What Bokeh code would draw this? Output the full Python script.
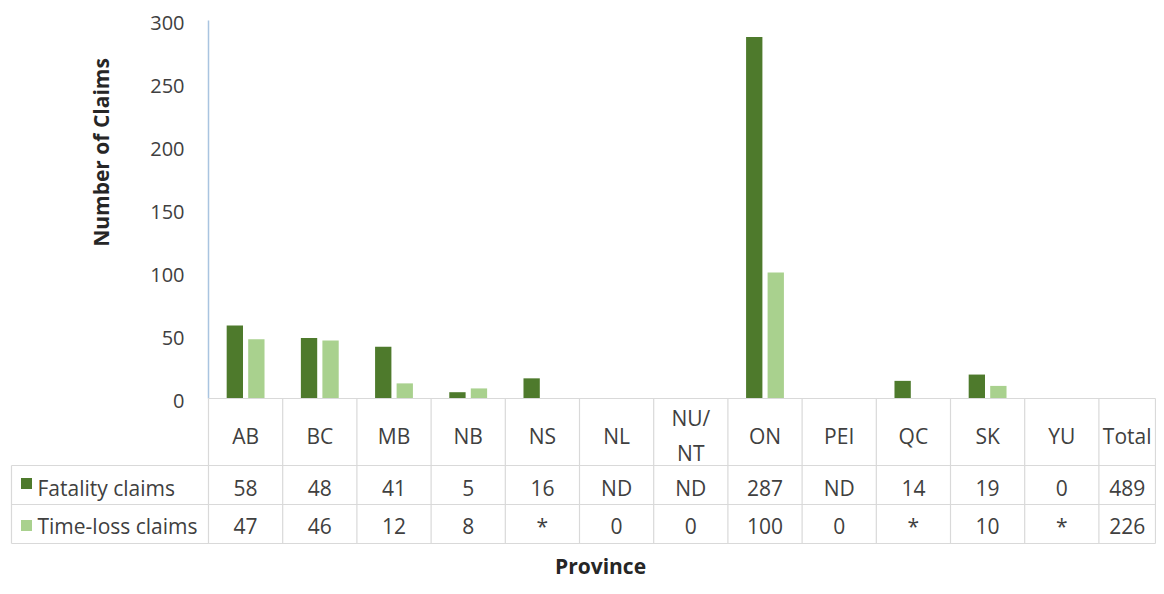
import numpy as np
from bokeh.plotting import figure
from bokeh.models import Range1d
from bokeh.core.properties import value
from bokeh.embed import file_html
from bokeh.resources import INLINE

# ---------------- data ----------------
provinces = ["AB", "BC", "MB", "NB", "NS", "NL", "NU/\nNT", "ON", "PEI", "QC", "SK", "YU", "Total"]
fatality_table = ["58", "48", "41", "5", "16", "ND", "ND", "287", "ND", "14", "19", "0", "489"]
timeloss_table = ["47", "46", "12", "8", "*", "0", "0", "100", "0", "*", "10", "*", "226"]
series_names = ["Fatality claims", "Time-loss claims"]
y_ticks = [0, 50, 100, 150, 200, 250, 300]

DARK = "#4e7a2c"
LIGHT = "#a9d18e"
TXT = "#404040"
GRID = "#d9d9d9"
FONT = value("Open Sans")

# ---------------- layout helpers (canvas px -> data) ----------------
X0, COLW = 208.0, 74.2     # left edge of first category column, column width (px)
Y0, PPU = 398.0, 1.26      # zero line (px), pixels per unit
W, H = 1156, 578


def sx(X):
    return (X - X0) / COLW


def sy(Y):
    return (Y0 - Y) / PPU


def to_num(s):
    return float(s) if s.isdigit() else np.nan


n_cat = len(provinces)
cat_x = np.arange(n_cat) + 0.5
plot_cats = n_cat - 1  # "Total" is not plotted as bars
fat_vals = [to_num(s) for s in fatality_table[:plot_cats]]
tl_vals = [to_num(s) for s in timeloss_table[:plot_cats]]

p = figure(width=W, height=H, output_backend="svg", toolbar_location=None,
           x_range=Range1d(sx(0), sx(W)), y_range=Range1d(sy(H), sy(0)),
           x_axis_location=None, y_axis_location=None, min_border=0,
           outline_line_color=None, background_fill_color="white")
p.grid.visible = False

# bars
p.vbar(x=cat_x[:plot_cats] - 0.145, top=fat_vals, bottom=0, width=0.22,
       fill_color=DARK, line_color=None)
p.vbar(x=cat_x[:plot_cats] + 0.145, top=tl_vals, bottom=0, width=0.22,
       fill_color=LIGHT, line_color=None)

# y axis line + tick labels
p.segment(x0=[0], y0=[0], x1=[0], y1=[max(y_ticks)], line_color="#a9c4e0", line_width=1.5)
p.text(x=[sx(184)] * len(y_ticks), y=y_ticks, text=[str(t) for t in y_ticks],
       text_align="right", text_baseline="middle", y_offset=2,
       text_font=FONT, text_font_size="20px", text_color=TXT)

# axis titles
p.text(x=[sx(100)], y=[sy(152)], text=["Number of Claims"], angle=np.pi / 2,
       text_align="center", text_baseline="middle",
       text_font=FONT, text_font_size="21px", text_font_style="bold", text_color="#262626")
p.text(x=[sx(600)], y=[sy(565)], text=["Province"],
       text_align="center", text_baseline="middle",
       text_font=FONT, text_font_size="21px", text_font_style="bold", text_color="#262626")

# ---------------- data table ----------------
right_edge = sx(1155)
row_tops = [sy(465), sy(504), sy(543)]
# top line of table (category axis)
p.segment(x0=[0], y0=[0], x1=[right_edge], y1=[0], line_color=GRID, line_width=1.2)
# row separators
p.segment(x0=[sx(11)] * 3, y0=row_tops, x1=[right_edge] * 3, y1=row_tops,
          line_color=GRID, line_width=1.2)
# column separators
vx = list(np.arange(n_cat)) + [right_edge]
p.segment(x0=vx, y0=[0] * len(vx), x1=vx, y1=[sy(543)] * len(vx),
          line_color=GRID, line_width=1.2)
p.segment(x0=[sx(11)], y0=[sy(465)], x1=[sx(11)], y1=[sy(543)],
          line_color=GRID, line_width=1.2)

# header labels (Total column is narrower, clipped at the chart edge)
hx = list(cat_x[:-1]) + [(n_cat - 1 + right_edge) / 2]
p.text(x=hx, y=[sy(435)] * n_cat, text=provinces, text_align="center",
       text_baseline="middle", text_line_height=1.25,
       text_font=FONT, text_font_size="21px", text_color=TXT)
# rows
for vals, ypx in [(fatality_table, 487), (timeloss_table, 525)]:
    p.text(x=hx, y=[sy(ypx)] * n_cat, text=vals, text_align="center",
           text_baseline="middle", text_font=FONT, text_font_size="21px", text_color=TXT)

# row labels with legend keys
p.rect(x=[sx(26), sx(26)], y=[sy(483), sy(525)], width=11, height=11,
       width_units="screen", height_units="screen",
       fill_color=[DARK, LIGHT], line_color=None)
p.text(x=[sx(37), sx(37)], y=[sy(487), sy(525)], text=series_names,
       text_align="left", text_baseline="middle",
       text_font=FONT, text_font_size="21px", text_color=TXT)

open("out.html", "w").write(file_html(p, INLINE))
